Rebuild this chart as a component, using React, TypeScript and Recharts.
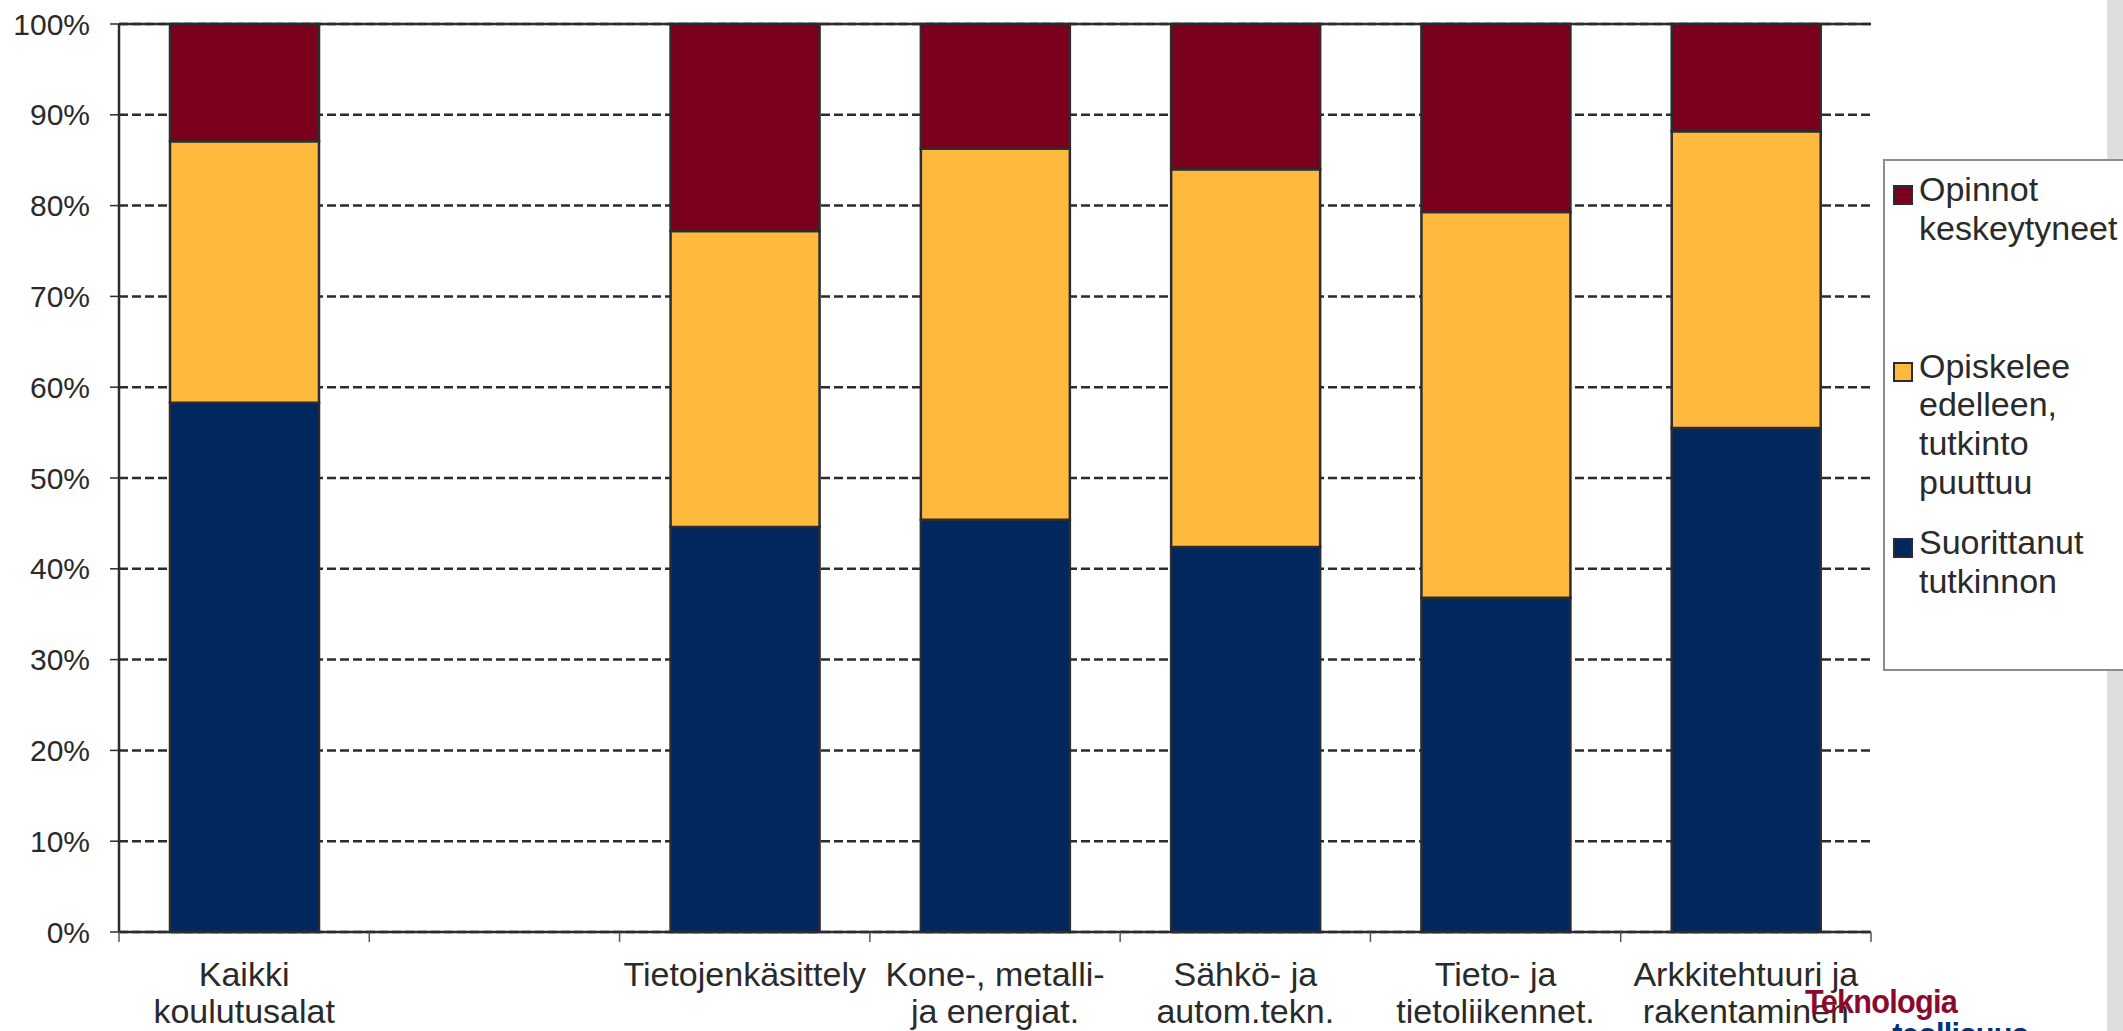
import { Bar, BarChart, CartesianGrid, ReferenceLine, XAxis, YAxis } from "recharts";

const categories = [
  "Kaikki\nkoulutusalat",
  "",
  "Tietojenkäsittely",
  "Kone-, metalli-\nja energiat.",
  "Sähkö- ja\nautom.tekn.",
  "Tieto- ja\ntietoliikennet.",
  "Arkkitehtuuri ja\nrakentaminen",
];

// shares in %, bottom to top
const completed = [58.3, null, 44.6, 45.4, 42.4, 36.8, 55.5];
const stillStudying = [28.8, null, 32.6, 40.9, 41.6, 42.5, 32.7];
const dropped = [12.9, null, 22.8, 13.7, 16.0, 20.7, 11.8];

const yTicks = [0, 10, 20, 30, 40, 50, 60, 70, 80, 90, 100];

const seriesNames = {
  completed: "Suorittanut\ntutkinnon",
  stillStudying: "Opiskelee\nedelleen,\ntutkinto\npuuttuu",
  dropped: "Opinnot\nkeskeytyneet",
};

const data = categories.map((name, i) => ({
  name,
  completed: completed[i],
  stillStudying: stillStudying[i],
  dropped: dropped[i],
}));

const W = 2123;
const H = 1031;
const AXIS_W = 119;
const RIGHT = 252;
const SLOT = (W - AXIS_W - RIGHT) / categories.length;
const FONT = '"Liberation Sans", Arial, sans-serif';
const INK = "#2b2b30";
const TEXT = "#2a2a2a";

const NAVY = "#00285f";
const YELLOW = "#ffba3e";
const RED = "#7b001c";

// legend reads top to bottom, opposite of the stack
const legendItems = [
  { name: seriesNames.dropped, color: RED },
  { name: seriesNames.stillStudying, color: YELLOW },
  { name: seriesNames.completed, color: NAVY },
];
const legendGaps = [9, 99, 21];

function CategoryTick(props: any) {
  const { x, y, payload, index } = props;
  const lines = String(payload.value).split("\n");
  const half = SLOT / 2;
  return (
    <g>
      <line x1={x - half} x2={x - half} y1={y} y2={y + 10} stroke="#555" strokeWidth={1.5} />
      {index === categories.length - 1 && (
        <line x1={x + half} x2={x + half} y1={y} y2={y + 10} stroke="#555" strokeWidth={1.5} />
      )}
      <text x={x} y={y + 54} textAnchor="middle" fill={TEXT} fontSize={34} fontFamily={FONT}>
        {lines.map((l, i) => (
          <tspan key={i} x={x} dy={i === 0 ? 0 : 37}>
            {l}
          </tspan>
        ))}
      </text>
    </g>
  );
}

function LegendBox() {
  return (
    <div
      style={{
        position: "absolute",
        left: 1883,
        top: 159,
        boxSizing: "border-box",
        width: W - 1883,
        height: 512,
        border: "2px solid #8c8c8c",
        borderRight: "none",
        background: "#fff",
        paddingLeft: 8,
        fontFamily: FONT,
        fontSize: 34,
        lineHeight: "38.8px",
        color: TEXT,
      }}
    >
      {legendItems.map((it, i) => (
        <div key={i} style={{ display: "flex", marginTop: legendGaps[i] }}>
          <div
            style={{
              width: 20,
              height: 20,
              boxSizing: "border-box",
              background: it.color,
              border: `2px solid ${INK}`,
              marginTop: 15,
              marginRight: 6,
              flex: "none",
            }}
          />
          <div style={{ whiteSpace: "pre-line" }}>{it.name}</div>
        </div>
      ))}
    </div>
  );
}

export default function App() {
  return (
    <div
      style={{
        position: "absolute",
        left: 0,
        top: 0,
        width: W,
        height: H,
        overflow: "hidden",
        background: "#fff",
      }}
    >
      <div style={{ position: "absolute", left: 2107, top: 0, width: 16, height: H, background: "#dcdfde" }} />
      <BarChart
        width={W}
        height={H}
        data={data}
        margin={{ top: 24, right: RIGHT, left: 0, bottom: 0 }}
        barSize={149}
      >
        <CartesianGrid vertical={false} stroke={INK} strokeWidth={2.5} strokeDasharray="9 4" />
        <XAxis
          dataKey="name"
          height={99}
          interval={0}
          tickSize={0}
          tickMargin={0}
          tickLine={false}
          axisLine={{ stroke: INK, strokeWidth: 2.5 }}
          tick={<CategoryTick />}
        />
        <YAxis
          domain={[0, 100]}
          ticks={yTicks}
          width={AXIS_W}
          tickSize={9}
          tickMargin={20}
          tickFormatter={(v) => `${v}%`}
          tick={{ fill: TEXT, fontSize: 30, fontFamily: FONT }}
          tickLine={{ stroke: INK, strokeWidth: 1.5 }}
          axisLine={{ stroke: INK, strokeWidth: 2.5 }}
        />
        <YAxis
          yAxisId="border"
          orientation="right"
          domain={[0, 100]}
          width={0}
          tick={false}
          tickLine={false}
          axisLine={{ stroke: INK, strokeWidth: 2.5 }}
        />
        <ReferenceLine y={100} stroke={INK} strokeWidth={2.5} />
        <Bar
          dataKey="completed"
          name={seriesNames.completed}
          stackId="a"
          fill={NAVY}
          stroke={INK}
          strokeWidth={2.5}
          isAnimationActive={false}
        />
        <Bar
          dataKey="stillStudying"
          name={seriesNames.stillStudying}
          stackId="a"
          fill={YELLOW}
          stroke={INK}
          strokeWidth={2.5}
          isAnimationActive={false}
        />
        <Bar
          dataKey="dropped"
          name={seriesNames.dropped}
          stackId="a"
          fill={RED}
          stroke={INK}
          strokeWidth={2.5}
          isAnimationActive={false}
        />
      </BarChart>
      <LegendBox />
      <div
        style={{
          position: "absolute",
          left: 1805,
          top: 985,
          fontFamily: FONT,
          fontWeight: "bold",
          fontSize: 34,
          lineHeight: "33px",
          letterSpacing: -0.8,
          transform: "scaleX(0.9)",
          transformOrigin: "left top",
        }}
      >
        <div style={{ color: "#8a0a2e" }}>Teknologia</div>
        <div style={{ color: "#003478", marginLeft: 97 }}>teollisuus</div>
      </div>
    </div>
  );
}
